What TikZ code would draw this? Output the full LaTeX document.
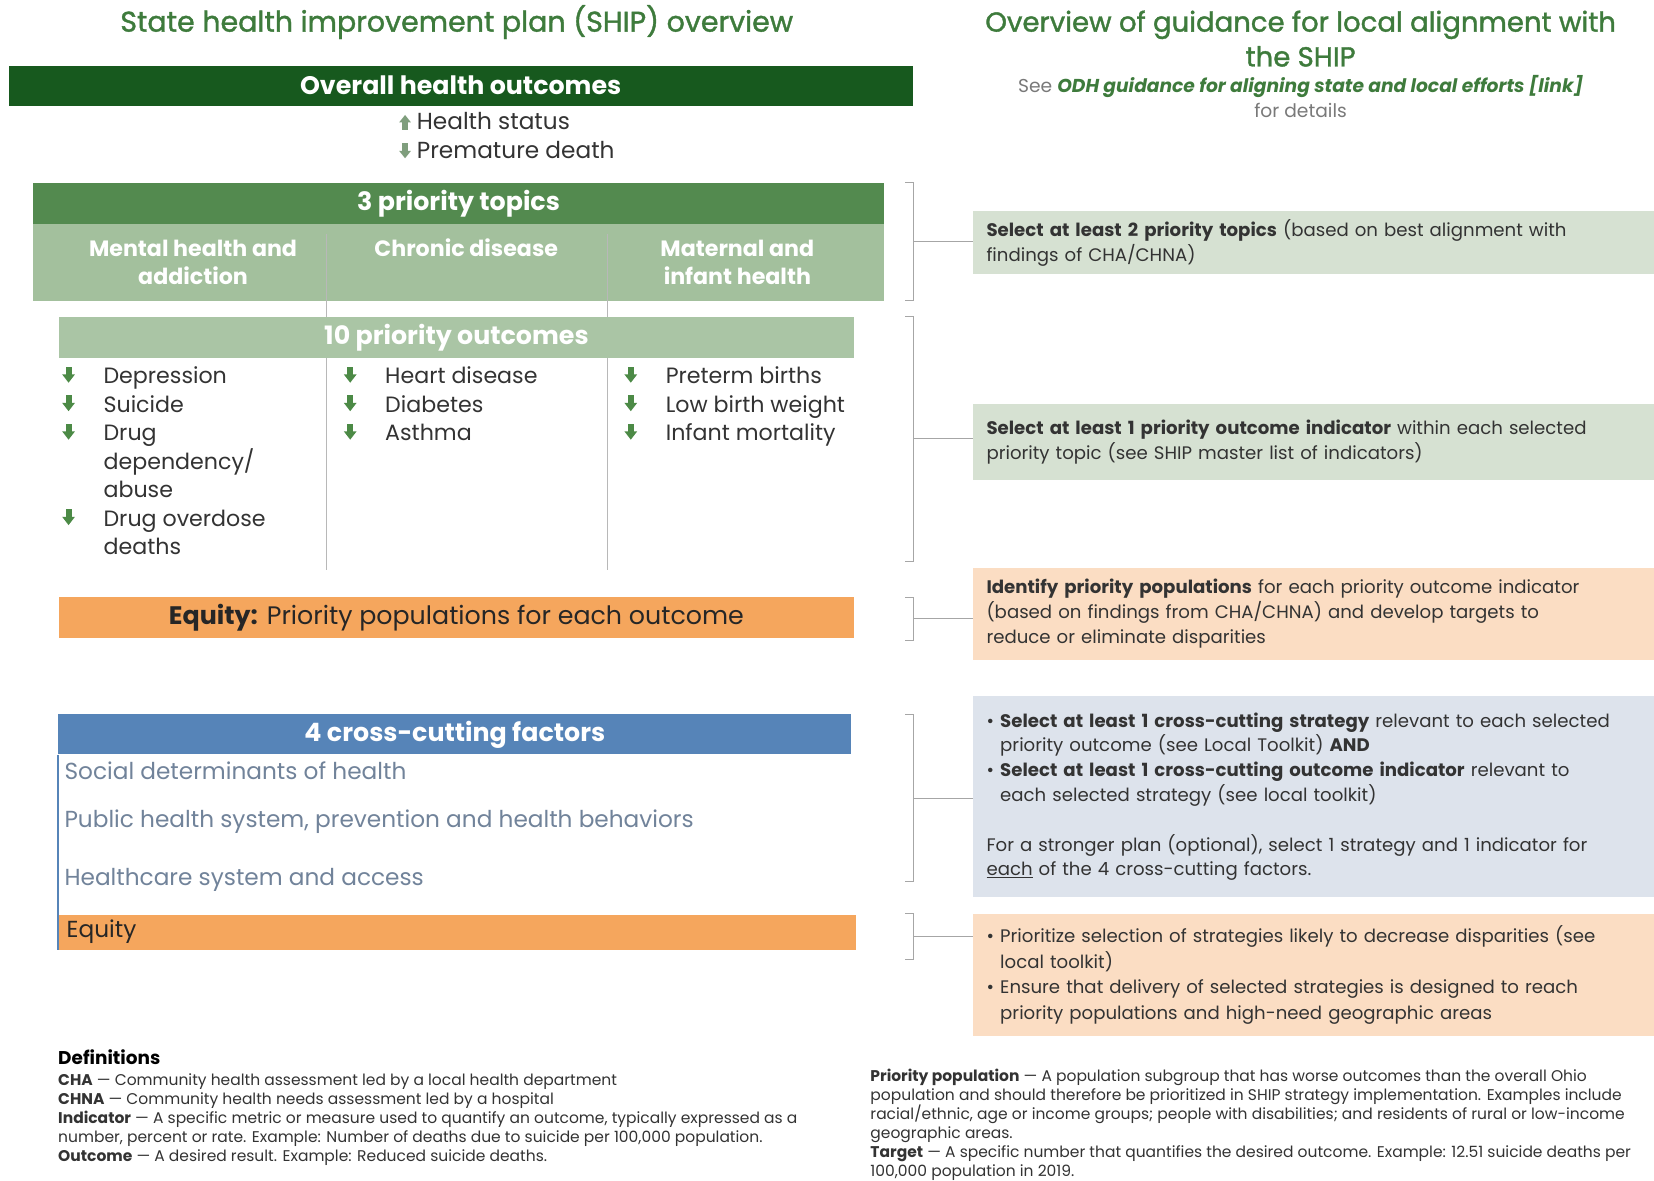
\documentclass[tikz,border=0pt]{standalone}
\usepackage{fontspec}
\setmainfont{Poppins}
\newfontfamily\titlefont[FakeBold=1.3]{Poppins}
\usepackage{xcolor}
\usepackage{tikz}
\usetikzlibrary{positioning}
\definecolor{titlegreen}{HTML}{3E7B3C}
\definecolor{darkgreen}{HTML}{17591E}
\definecolor{midgreen}{HTML}{538A4F}
\definecolor{lightgreen}{HTML}{A3C09D}
\definecolor{arrowgreen}{HTML}{4C8A46}
\definecolor{keygray}{HTML}{7F9E7D}
\definecolor{eqorange}{HTML}{F5A65D}
\definecolor{ccblue}{HTML}{5684B8}
\definecolor{factortext}{HTML}{71839A}
\definecolor{boxgreen}{HTML}{D6E1D2}
\definecolor{boxpeach}{HTML}{FBDDC3}
\definecolor{boxblue}{HTML}{DDE3EC}
\definecolor{bodytext}{HTML}{333333}
\definecolor{rulegray}{HTML}{A6A6A6}
\newcommand\fsz[2]{\fontsize{#1}{#2}\selectfont}
\newcommand\bul{\makebox[13pt][l]{\textbullet}}
\newcommand\hng{\hspace*{13pt}}
\tikzset{
  title/.style={inner sep=0pt, align=center, text=titlegreen, font=\titlefont\fsz{27}{33}},
  headbar/.style={anchor=north west, inner sep=0pt, text=white, font=\fsz{24}{28}\bfseries},
  topic/.style={anchor=base, inner sep=0pt, align=center, text=white, font=\fsz{21}{27}\bfseries},
  item/.style={anchor=base west, inner sep=0pt, align=left, text=bodytext, font=\fsz{21}{27}},
  factor/.style={anchor=west, inner sep=0pt, text=factortext, font=\fsz{22}{26}},
  guide/.style={anchor=north west, inner xsep=13pt, inner ysep=0pt, text width=620pt,
    minimum height=#1, align=left, text=bodytext, font=\fsz{17.2}{23.5}},
  bracket/.style={draw=rulegray, line width=0.9pt},
  divider/.style={draw=rulegray!80, line width=0.8pt},
  defn/.style={anchor=base west, inner sep=0pt, align=left, text=bodytext, font=\fsz{14.7}{18}},
  listarrow/.pic={\fill[arrowgreen] (-2.8,-7.5) rectangle (2.8,0.5);
    \fill[arrowgreen] (-6,0) -- (6,0) -- (0,7.8) -- cycle;},
  keydown/.pic={\fill[keygray] (-2.6,-7) rectangle (2.6,0.5);
    \fill[keygray] (-5.6,0) -- (5.6,0) -- (0,7) -- cycle;},
  keyup/.pic={\fill[keygray] (-2.6,7) rectangle (2.6,-0.5);
    \fill[keygray] (-5.6,0) -- (5.6,0) -- (0,-7) -- cycle;}
}
\begin{document}
\begin{tikzpicture}[x=1pt,y=-1pt]
  \path[use as bounding box, fill=white] (0,0) rectangle (1568,1119);
  % titles
  \node[title, anchor=base] (lt) at (433,30) {State health improvement plan (SHIP) overview};
  \node[title, anchor=base, font=\titlefont\fsz{26.1}{33}] (rt) at (1233,63) {Overview of guidance for local alignment with\\the SHIP};
  \node[anchor=base, inner sep=0pt, align=center, text=gray!95!black, font=\fsz{17.7}{23}] (see) at (1233,111)
    {See \textcolor{titlegreen}{\bfseries\itshape ODH guidance for aligning state and local efforts [link]}\\for details};

  % overall outcomes
  \node[headbar, fill=darkgreen, minimum width=857pt, minimum height=38pt] (ovr) at (8,62) {Overall health outcomes};
  \pic at (384,116) {keyup};
  \pic at (384,143) {keydown};
  \node[item, font=\fsz{22}{27}] (hs) at (395,123) {Health status};
  \node[item, font=\fsz{22}{27}] (pd) at (395,150) {Premature death};

  % priority topics
  \node[headbar, fill=midgreen, minimum width=807pt, minimum height=39pt] (top) at (31,173) {3 priority topics};
  \node[anchor=north west, inner sep=0pt, fill=lightgreen, minimum width=807pt, minimum height=73pt] (row) at (31,212) {};
  \draw[divider] (309,222) -- (309,540);
  \draw[divider] (576,222) -- (576,540);
  \node[topic] (mh) at (183,270) {Mental health and\\addiction};
  \node[topic] (cd) at (442,243) {Chronic disease};
  \node[topic] (mi) at (699,270) {Maternal and\\infant health};

  % priority outcomes
  \node[headbar, fill=lightgreen!92!white, minimum width=753pt, minimum height=39pt] (out) at (56,300) {10 priority outcomes};
  \foreach \x/\y in {65/355, 65/382, 65/409, 65/490, 332/355, 332/382, 332/409, 598/355, 598/382, 598/409}
    \pic at (\x,\y) {listarrow};
  \node[item] (dep) at (98,364) {Depression};
  \node[item] (sui) at (98,391) {Suicide};
  \node[item] (drg) at (98,472) {Drug\\dependency/\\abuse};
  \node[item] (ovd) at (98,526) {Drug overdose\\deaths};
  \node[item] (hrt) at (365,364) {Heart disease};
  \node[item] (dia) at (365,391) {Diabetes};
  \node[item] (ast) at (365,418) {Asthma};
  \node[item] (pre) at (631,364) {Preterm births};
  \node[item] (lbw) at (631,391) {Low birth weight};
  \node[item] (inf) at (631,418) {Infant mortality};

  % equity
  \node[headbar, fill=eqorange, text=black!85, font=\fsz{24}{28}, minimum width=753pt, minimum height=39pt] (eqt) at (56,566)
    {\textbf{Equity:} Priority populations for each outcome};

  % cross-cutting factors
  \node[headbar, fill=ccblue, minimum width=752pt, minimum height=38pt] (ccf) at (55,677) {4 cross-cutting factors};
  \node[headbar, fill=eqorange, minimum width=756pt, minimum height=33pt] (eqb) at (55,867) {};
  \draw[ccblue, line width=2.5pt] (ccf.south west) -- (eqb.south west);
  \node[factor] (sdh) at (61,731) {Social determinants of health};
  \node[factor] (phs) at (61,779) {Public health system, prevention and health behaviors};
  \node[factor] (hca) at (61,834) {Healthcare system and access};
  \node[factor, text=black!85] (eqf) at (63,883) {Equity};

  % guidance boxes
  \node[guide=60pt, fill=boxgreen] (b1) at (922,200)
    {\textbf{Select at least 2 priority topics} (based on best alignment with\\findings of CHA/CHNA)};
  \node[guide=72pt, fill=boxgreen] (b2) at (922,383)
    {\textbf{Select at least 1 priority outcome indicator} within each selected\\priority topic (see SHIP master list of indicators)};
  \node[guide=87pt, fill=boxpeach] (b3) at (922,538)
    {\textbf{Identify priority populations} for each priority outcome indicator\\(based on findings from CHA/CHNA) and develop targets to\\reduce or eliminate disparities};
  \node[guide=190pt, fill=boxblue] (b4) at (922,660)
    {\bul\textbf{Select at least 1 cross-cutting strategy} relevant to each selected\\
     \hng priority outcome (see Local Toolkit) \textbf{AND}\\
     \bul\textbf{Select at least 1 cross-cutting outcome indicator} relevant to\\
     \hng each selected strategy (see local toolkit)\\[23.5pt]
     For a stronger plan (optional), select 1 strategy and 1 indicator for\\
     \underline{each} of the 4 cross-cutting factors.};
  \node[guide=116pt, fill=boxpeach, font=\fsz{17.2}{24.3}] (b5) at (922,866)
    {\bul Prioritize selection of strategies likely to decrease disparities (see\\
     \hng local toolkit)\\
     \bul Ensure that delivery of selected strategies is designed to reach\\
     \hng priority populations and high-need geographic areas};

  % brackets
  \foreach \t/\b/\n in {173/285/1, 300/532/2, 566/607/3, 677/836/4, 866/910/5} {
    \draw[bracket] (858,\t) -- (866,\t) -- (866,\b) -- (858,\b);
    \coordinate (k\n) at (866,{(\t+\b)/2});
    \draw[bracket] (k\n) -- (k\n -| b\n.west);
  }

  % definitions
  \node[defn, font=\fsz{17.5}{22}\bfseries, text=black] (defh) at (55,1009) {Definitions};
  \node[defn] (defl) at (55,1101)
    {\textbf{CHA} --- Community health assessment led by a local health department\\
     \textbf{CHNA} --- Community health needs assessment led by a hospital\\
     \textbf{Indicator} --- A specific metric or measure used to quantify an outcome, typically expressed as a\\
     number, percent or rate. Example: Number of deaths due to suicide per 100,000 population.\\
     \textbf{Outcome} --- A desired result. Example: Reduced suicide deaths.};
  \node[defn] (defr) at (825,1115)
    {\textbf{Priority population} --- A population subgroup that has worse outcomes than the overall Ohio\\
     population and should therefore be prioritized in SHIP strategy implementation. Examples include\\
     racial/ethnic, age or income groups; people with disabilities; and residents of rural or low-income\\
     geographic areas.\\
     \textbf{Target} --- A specific number that quantifies the desired outcome. Example: 12.51 suicide deaths per\\
     100,000 population in 2019.};
\end{tikzpicture}
\end{document}
